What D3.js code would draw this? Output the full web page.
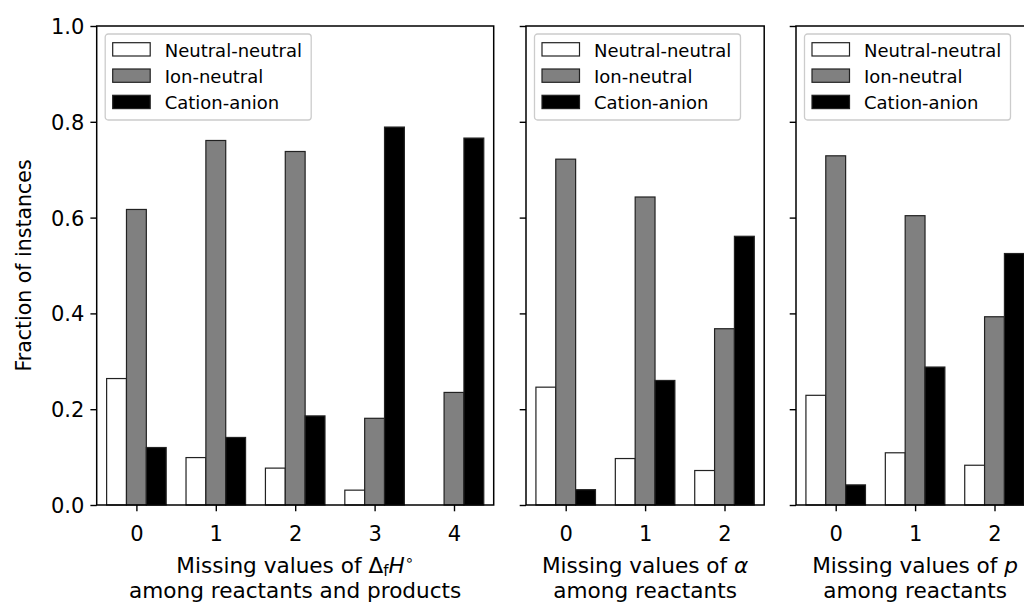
<!DOCTYPE html>
<html>
<head>
<meta charset="utf-8">
<script src="https://cdn.jsdelivr.net/npm/d3@7"></script>
<style>
  body { margin: 0; background: #fff; }
  text { font-family: "DejaVu Sans", sans-serif; fill: #000; }
</style>
</head>
<body>
<div class="canva"></div>
<script>
// data
const seriesNames = ["Neutral-neutral", "Ion-neutral", "Cation-anion"];
const seriesFill = ["#ffffff", "#808080", "#000000"];

const catsH = [0, 1, 2, 3, 4];
const neutralH = [0.264, 0.099, 0.077, 0.031, 0.0];
const ionH = [0.617, 0.761, 0.738, 0.181, 0.235];
const cationH = [0.120, 0.141, 0.186, 0.789, 0.766];

const catsAlpha = [0, 1, 2];
const neutralAlpha = [0.246, 0.097, 0.072];
const ionAlpha = [0.722, 0.643, 0.368];
const cationAlpha = [0.032, 0.260, 0.561];

const catsP = [0, 1, 2];
const neutralP = [0.229, 0.109, 0.083];
const ionP = [0.729, 0.604, 0.393];
const cationP = [0.042, 0.288, 0.525];

const yTicks = [0.0, 0.2, 0.4, 0.6, 0.8, 1.0];

const WIDTH = 1024;
const HEIGHT = 604;
const TOP = 26;
const BOTTOM = 505;
const UNIT = 79.4;   // px per category step
const BAR_W = 0.25;

const svg = d3.select(".canva").append("svg")
    .attr("width", WIDTH)
    .attr("height", HEIGHT);

const y = d3.scaleLinear().domain([0, 1]).range([BOTTOM, TOP]);

const panels = [
    { left: 96.7, cats: catsH, series: [neutralH, ionH, cationH], label: "H", yLabels: true },
    { left: 526, cats: catsAlpha, series: [neutralAlpha, ionAlpha, cationAlpha], label: "alpha", yLabels: false },
    { left: 796, cats: catsP, series: [neutralP, ionP, cationP], label: "p", yLabels: false },
];

panels.forEach(p => {
    const right = p.left + UNIT * p.cats.length;
    const x = d3.scaleLinear().domain([-0.5, p.cats.length - 0.5]).range([p.left, right]);
    const g = svg.append("g");

    // bars
    p.series.forEach((vals, si) => {
        g.selectAll(null).data(vals.map((v, i) => ({ v: v, c: p.cats[i] })))
            .enter()
            .filter(d => d.v > 0)
            .append("rect")
            .attr("x", d => x(d.c + (si - 1) * BAR_W - BAR_W / 2))
            .attr("width", x(BAR_W) - x(0))
            .attr("y", d => y(d.v))
            .attr("height", d => y(0) - y(d.v))
            .attr("fill", seriesFill[si])
            .attr("stroke", "#222")
            .attr("stroke-width", 1.2);
    });

    // axes
    const xAxis = d3.axisBottom(x).tickValues(p.cats).tickFormat(d3.format("d"))
        .tickSize(6.3).tickPadding(5);
    const gx = g.append("g").attr("transform", `translate(0,${BOTTOM})`).call(xAxis);
    gx.select(".domain").remove();
    gx.selectAll(".tick line").attr("stroke", "#000").attr("stroke-width", 1.4);
    gx.selectAll(".tick text").attr("font-size", 21).attr("dy", null).attr("y", 35.5);

    const yAxis = d3.axisLeft(y).tickValues(yTicks).tickSize(6.3).tickPadding(6)
        .tickFormat(p.yLabels ? d3.format(".1f") : () => "");
    const gy = g.append("g").attr("transform", `translate(${p.left},0)`).call(yAxis);
    gy.select(".domain").remove();
    gy.selectAll(".tick line").attr("stroke", "#000").attr("stroke-width", 1.4);
    gy.selectAll(".tick text").attr("font-size", 21).attr("dy", "0.36em");

    // frame
    g.append("rect")
        .attr("x", p.left).attr("y", TOP)
        .attr("width", right - p.left).attr("height", BOTTOM - TOP)
        .attr("fill", "none").attr("stroke", "#000").attr("stroke-width", 1.5);

    // legend
    const lg = g.append("g").attr("transform", `translate(${p.left + 8.5},${TOP + 8})`);
    lg.append("rect")
        .attr("width", 206).attr("height", 86).attr("rx", 3)
        .attr("fill", "#fff").attr("fill-opacity", 0.8)
        .attr("stroke", "#cccccc").attr("stroke-width", 1.3);
    seriesNames.forEach((name, i) => {
        lg.append("rect")
            .attr("x", 7.5).attr("y", 8.7 + i * 26.3)
            .attr("width", 37.5).attr("height", 13.3)
            .attr("fill", seriesFill[i]).attr("stroke", "#222").attr("stroke-width", 1.2);
        lg.append("text")
            .attr("x", 59.5).attr("y", 22.6 + i * 26.3)
            .attr("font-size", 18)
            .text(name);
    });

    // x label
    const cx = (p.left + right) / 2;
    const t1 = g.append("text").attr("x", cx).attr("y", 573).attr("text-anchor", "middle").attr("font-size", 21.6);
    t1.append("tspan").text("Missing values of ");
    if (p.label === "H") {
        t1.append("tspan").text("\u0394");
        t1.append("tspan").attr("font-size", 15).attr("dy", 3).text("f");
        t1.append("tspan").attr("font-style", "italic").attr("dy", -3).text("H");
        t1.append("tspan").attr("font-size", 15).attr("dy", -8).text("\u2218");
    } else if (p.label === "alpha") {
        t1.append("tspan").attr("font-style", "italic").text("\u03b1");
    } else {
        t1.append("tspan").attr("font-style", "italic").text("p");
    }
    g.append("text").attr("x", cx).attr("y", 598).attr("text-anchor", "middle").attr("font-size", 21.6)
        .text(p.label === "H" ? "among reactants and products" : "among reactants");
});

// y label
svg.append("text")
    .attr("transform", `translate(30.5,${(TOP + BOTTOM) / 2}) rotate(-90)`)
    .attr("text-anchor", "middle")
    .attr("font-size", 20.5)
    .text("Fraction of instances");
</script>
</body>
</html>
